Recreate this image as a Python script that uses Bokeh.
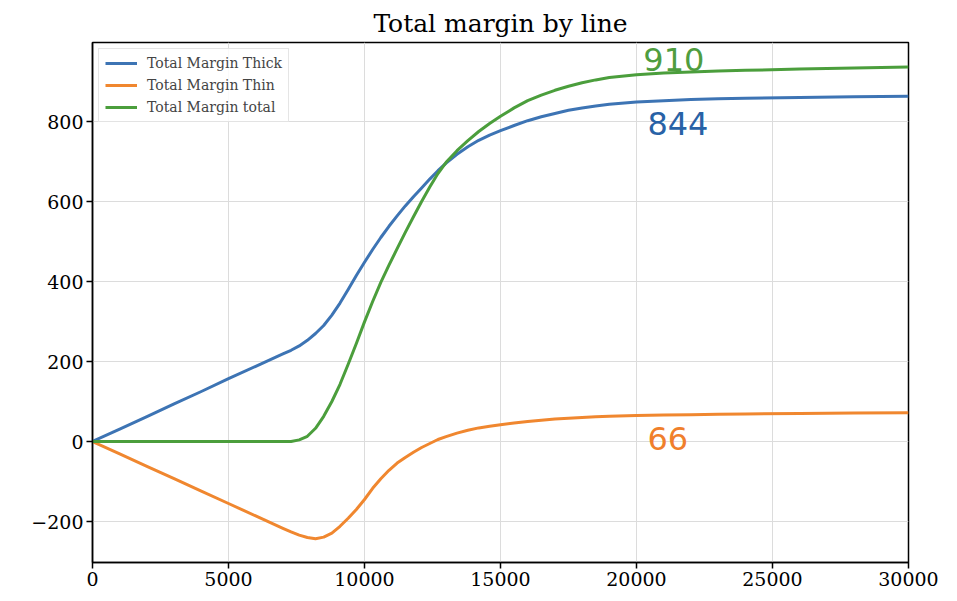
from bokeh.plotting import figure
from bokeh.models import Range1d, FixedTicker, Legend, LegendItem, Label
from bokeh.embed import file_html
from bokeh.resources import INLINE

# ---- data ----
volume = [0, 1000, 2000, 3000, 4000, 5000, 6000, 7000,
          7300, 7600, 7900, 8200, 8500, 8800, 9100, 9400, 9700,
          10000, 10300, 10600, 10900, 11200, 11500, 11800, 12100, 12400, 12700,
          13000, 13400, 13800, 14200, 14600, 15000,
          15500, 16000, 16500, 17000, 17500, 18000, 18500, 19000,
          20000, 21000, 22000, 23000, 24000, 26000, 28000, 30000]

margin_thick = [0, 31, 62, 94, 125, 157, 188, 219,
                228, 239, 253, 270, 290, 316, 346, 380, 415,
                448, 480, 510, 538, 564, 589, 612, 634, 656, 677,
                696, 718, 737, 753, 766, 777,
                790, 802, 812, 820, 828, 834, 839, 843,
                849, 852, 855, 857, 858, 860, 862, 863]

margin_thin = [0, -31, -62, -93, -124, -155, -186, -217,
               -226, -234, -240, -243, -239, -229, -212, -192, -170,
               -145, -117, -93, -72, -54, -40, -27, -15, -5, 5,
               12, 21, 28, 34, 38, 42,
               46, 50, 53, 56, 58, 60, 62, 63,
               65, 66, 67, 68, 69, 70, 71, 72]

margin_total = [0, 0, 0, 0, 0, 0, 0, 0,
                0, 4, 13, 33, 63, 100, 143, 193, 245,
                299, 350, 398, 441, 482, 523, 562, 600, 636, 670,
                698, 727, 752, 775, 795, 813,
                834, 852, 866, 878, 888, 897, 904, 910,
                917, 921, 924, 926, 928, 931, 934, 936]

series_names = ["Total Margin Thick", "Total Margin Thin", "Total Margin total"]
end_labels = ["844", "66", "910"]
label_x = [20400, 20400, 20250]
label_y = [795, 7, 956]

x_ticks = [0, 5000, 10000, 15000, 20000, 25000, 30000]
y_ticks = [-200, 0, 200, 400, 600, 800]

line_colors = ["#3d74b4", "#f0872f", "#4b9e3c"]
text_colors = ["#2862a6", "#f07f2c", "#4f9d3f"]

SERIF = "DejaVu Serif"

p = figure(width=957, height=601, output_backend="svg", toolbar_location=None,
           x_range=Range1d(0, 30000), y_range=Range1d(-302.5, 997.5),
           min_border_left=92, min_border_right=49, min_border_bottom=39,
           min_border_top=42)

p.title.text = "Total margin by line"
p.title.align = "center"
p.title.text_font = SERIF
p.title.text_font_size = "25px"
p.title.text_font_style = "normal"
p.title.text_color = "black"
p.title.standoff = 10

p.outline_line_color = "black"
p.outline_line_width = 1.5
p.background_fill_color = "white"

for ax in (p.xaxis, p.yaxis):
    ax.major_label_text_font = SERIF
    ax.major_label_text_font_size = "19px"
    ax.major_label_text_color = "black"
    ax.axis_line_color = "black"
    ax.axis_line_width = 1.5
    ax.major_tick_line_color = "black"
    ax.major_tick_line_width = 1.5
    ax.major_tick_out = 6
    ax.major_tick_in = 0
    ax.minor_tick_line_color = None
    ax.major_label_standoff = 3

p.xaxis.ticker = FixedTicker(ticks=x_ticks)
p.yaxis.ticker = FixedTicker(ticks=y_ticks)
p.yaxis.major_label_overrides = {-200: "\u2212200"}

p.xgrid.grid_line_color = "#dcdcdc"
p.ygrid.grid_line_color = "#dcdcdc"
p.xgrid.grid_line_width = 1
p.ygrid.grid_line_width = 1
p.xgrid.ticker = FixedTicker(ticks=x_ticks)
p.ygrid.ticker = FixedTicker(ticks=y_ticks)

items = []
for name, ys, col in zip(series_names, [margin_thick, margin_thin, margin_total], line_colors):
    r = p.line(volume, ys, line_color=col, line_width=3, line_join="round")
    items.append(LegendItem(label=name, renderers=[r]))

for txt, lx, ly, col in zip(end_labels, label_x, label_y, text_colors):
    p.add_layout(Label(x=lx, y=ly, text=txt, text_color=col,
                       text_font="DejaVu Sans", text_font_size="32px",
                       text_baseline="alphabetic", text_align="left"))

legend = Legend(items=items, location="top_left")
legend.label_text_font = SERIF
legend.label_text_font_size = "14px"
legend.label_height = 16
legend.glyph_height = 16
legend.glyph_width = 32
legend.spacing = 6
legend.padding = 6
legend.margin = 6
legend.label_standoff = 10
legend.border_line_color = "#cccccc"
legend.border_line_width = 1
legend.background_fill_alpha = 0.85
p.add_layout(legend)

open("out.html", "w").write(file_html(p, INLINE))
